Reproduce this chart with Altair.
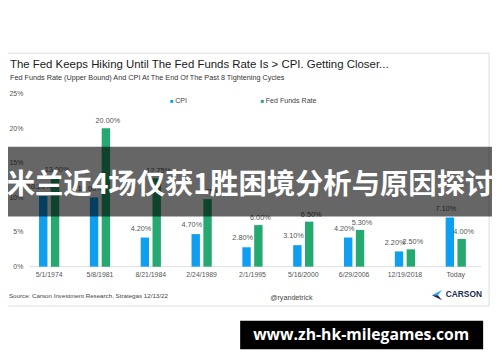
import altair as alt
import pandas as pd

# ---- data ----
dates = ["5/1/1974", "5/8/1981", "8/21/1984", "2/24/1989", "2/1/1995",
         "5/16/2000", "6/29/2006", "12/19/2018", "Today"]
cpi = [10.2, 10.0, 4.2, 4.7, 2.8, 3.1, 4.2, 2.2, 7.1]
fed = [13.0, 20.0, 12.75, 9.75, 6.0, 6.5, 5.3, 2.5, 4.0]
series = ["CPI", "Fed Funds Rate"]
colors = ["#0E9FF0", "#25A970"]
y_ticks = [0, 5, 10, 15, 20, 25]

title_text = "The Fed Keeps Hiking Until The Fed Funds Rate Is > CPI. Getting Closer..."
subtitle_text = "Fed Funds Rate (Upper Bound) And CPI At The End Of The Past 8 Tightening Cycles"
source_text = "Source: Carson Investment Research, Strategas 12/13/22"
handle_text = "@ryandetrick"
brand_text = "CARSON"
banner_text = "米兰近4场仅获1胜困境分析与原因探讨"
watermark_text = "www.zh-hk-milegames.com"

rows = []
for d, c, f in zip(dates, cpi, fed):
    rows.append({"date": d, "series": series[0], "value": c, "label": f"{c:.2f}%"})
    rows.append({"date": d, "series": series[1], "value": f, "label": f"{f:.2f}%"})
df = pd.DataFrame(rows)

W, H = 465, 176
FONT = "Liberation Sans"

x_enc = alt.X("date:N", sort=dates,
              scale=alt.Scale(domain=dates, paddingInner=0.5, paddingOuter=0.25),
              axis=alt.Axis(title=None, labelAngle=0, domain=False, ticks=False,
                            labelPadding=4, labelFontSize=7, labelColor="#555555",
                            labelFont=FONT))
xo_enc = alt.XOffset("series:N", sort=series,
                     scale=alt.Scale(domain=series, paddingInner=0.29, paddingOuter=0.22))
y_enc = alt.Y("value:Q", scale=alt.Scale(domain=[0, 25], nice=False),
              axis=alt.Axis(title=None, values=y_ticks, labelExpr="datum.value + '%'",
                            grid=False, domain=False, ticks=False, labelPadding=1,
                            labelFontSize=7, labelColor="#555555", labelFont=FONT))

base = alt.Chart(df)

bars = base.mark_bar().encode(
    x=x_enc, xOffset=xo_enc, y=y_enc,
    color=alt.Color("series:N", scale=alt.Scale(domain=series, range=colors), legend=None),
)

lab_cpi = base.transform_filter(alt.datum.series == series[0]).mark_text(
    dx=-4, dy=-9, fontSize=7.4, color="#555555", font=FONT
).encode(x=x_enc, xOffset=xo_enc, y=y_enc, text="label:N")

lab_fed = base.transform_filter(alt.datum.series == series[1]).mark_text(
    dx=2, dy=-7, fontSize=7.4, color="#555555", font=FONT
).encode(x=x_enc, xOffset=xo_enc, y=y_enc, text="label:N")

one = pd.DataFrame({"k": [0]})


def txt(s, x, y, size, color="#333333", weight="normal", align="left", font=FONT):
    return alt.Chart(one).mark_text(
        text=s, fontSize=size, color=color, fontWeight=weight, align=align,
        baseline="middle", font=font
    ).encode(x=alt.value(x), y=alt.value(y))


def box(x1, x2, y1, y2, **kw):
    return alt.Chart(one).mark_rect(**kw).encode(
        x=alt.value(x1), x2=alt.value(x2), y=alt.value(y1), y2=alt.value(y2))


card = box(-21, 473, -41, 216, fillOpacity=0, stroke="#DDDDDD", strokeWidth=1)
baseline = alt.Chart(one).mark_rule(color="#DDDDDD", strokeWidth=1).encode(
    x=alt.value(6), x2=alt.value(W), y=alt.value(H))

title = txt(title_text, -14, -29, 11.6, color="#1A1A1A")
subtitle = txt(subtitle_text, -14, -16, 7.4, color="#333333")

leg1 = box(149, 152, 6.5, 9.5, fill=colors[0])
leg1t = txt(series[0], 154, 8, 7.2, color="#444444")
leg2 = box(241, 244, 6.5, 9.5, fill=colors[1])
leg2t = txt(series[1], 246, 8, 7.2, color="#444444")

source = txt(source_text, -15, 206, 6.3, color="#444444")
handle = txt(handle_text, 272, 208, 7.3, color="#444444", align="center")
chev_top = alt.Chart(one).mark_point(
    shape="M1,-1 L-1,0 L0.2,0 Z", filled=True, size=110, color="#2EA3F2", opacity=1
).encode(x=alt.value(420), y=alt.value(205))
chev_bot = alt.Chart(one).mark_point(
    shape="M-1,0 L1,1 L0.2,0 Z", filled=True, size=110, color="#1C2B4F", opacity=1
).encode(x=alt.value(420), y=alt.value(205))
brand = txt(brand_text, 429, 204, 8.5, color="#1C2B4F", weight="bold")

banner = box(-24, 476, 54, 125, fill="black", opacity=0.6)
banner_t = txt(banner_text, 230, 93, 28.8, color="white", weight="bold", align="center",
               font="Noto Sans CJK SC")

wm = box(220, 467, 231, 260, fill="black")
wm_t = txt(watermark_text, 343, 246, 16, color="white", weight="bold", align="center",
           font="Open Sans")

chart = alt.layer(
    card, baseline, bars, lab_cpi, lab_fed, title, subtitle, leg1, leg1t, leg2, leg2t,
    source, handle, chev_top, chev_bot, brand, banner, banner_t, wm, wm_t
).properties(
    width=W, height=H,
    autosize=alt.AutoSizeParams(type="none"),
    padding={"left": 16, "top": 84, "right": 11, "bottom": 94},
    background="white",
).configure_view(stroke=None)

chart.save("out.html", embed_options={"renderer": "svg", "actions": False})
